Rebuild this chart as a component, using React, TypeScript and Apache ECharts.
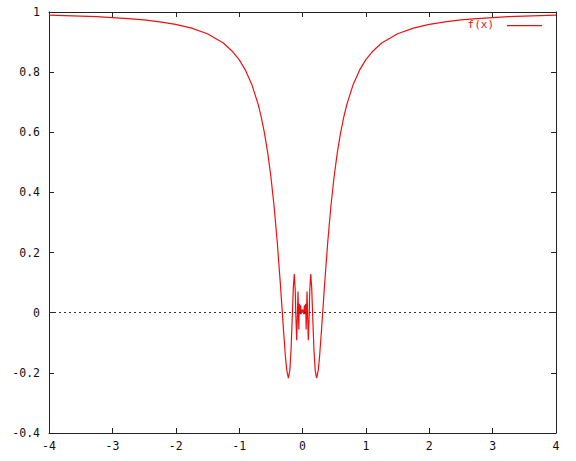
import React, { useEffect, useRef } from "react";
import * as echarts from "echarts";

const seriesName = "f(x)";
const xValues = [
  -4, -3.75, -3.5, -3.25, -3, -2.75, -2.5, -2.25, -2, -1.75, -1.5, -1.25, -1.1, -1, -0.9, -0.8, -0.7, -0.65, -0.6, -0.55,
  -0.5, -0.45, -0.4, -0.35, -0.3, -0.27, -0.25, -0.2225, -0.2, -0.18, -0.16, -0.145, -0.1294, -0.115, -0.105, -0.0917,
  -0.08, -0.0711, -0.064, -0.058, -0.05, -0.04, -0.03, -0.02, -0.01, 0,
  0.01, 0.02, 0.03, 0.04, 0.05, 0.058, 0.064, 0.0711, 0.08, 0.0917, 0.105, 0.115, 0.1294, 0.145, 0.16, 0.18, 0.2,
  0.2225, 0.25, 0.27, 0.3, 0.35, 0.4, 0.45, 0.5, 0.55, 0.6, 0.65, 0.7, 0.8, 0.9, 1, 1.1, 1.25, 1.5, 1.75, 2, 2.25,
  2.5, 2.75, 3, 3.25, 3.5, 3.75, 4,
];
const yValues = [
  0.9896, 0.9882, 0.9865, 0.9843, 0.9816, 0.9781, 0.9736, 0.9674, 0.9589, 0.9464, 0.9276, 0.8967, 0.8678, 0.8415, 0.8066,
  0.7592, 0.6929, 0.6497, 0.5972, 0.5333, 0.4547, 0.358, 0.2394, 0.0983, -0.0572, -0.1439, -0.1892, -0.2172, -0.1918,
  -0.1197, -0.0053, 0.0835, 0.1284, 0.0766, -0.0104, -0.0913, -0.0053, 0.0709, 0.0053, -0.056, 0.03, -0.005, 0.025,
  -0.005, 0.01, 0,
  0.01, -0.005, 0.025, -0.005, 0.03, -0.056, 0.0053, 0.0709, -0.0053, -0.0913, -0.0104, 0.0766, 0.1284, 0.0835, -0.0053,
  -0.1197, -0.1918, -0.2172, -0.1892, -0.1439, -0.0572, 0.0983, 0.2394, 0.358, 0.4547, 0.5333, 0.5972, 0.6497, 0.6929,
  0.7592, 0.8066, 0.8415, 0.8678, 0.8967, 0.9276, 0.9464, 0.9589, 0.9674, 0.9736, 0.9781, 0.9816, 0.9843, 0.9865, 0.9882,
  0.9896,
];
const xTicks = { min: -4, max: 4, step: 1 };
const yTicks = { min: -0.4, max: 1, step: 0.2 };

const FONT = "'DejaVu Sans Mono', monospace";
const RED = "#ee1111";

export default function App() {
  const ref = useRef<HTMLDivElement>(null);
  useEffect(() => {
    if (!ref.current) return;
    const chart = echarts.init(ref.current, undefined, { renderer: "svg" });
    const data = xValues.map((x, i) => [x, yValues[i]]);
    const axisCommon = {
      type: "value" as const,
      splitLine: { show: false },
      axisLine: { show: true, onZero: false, lineStyle: { color: "#222", width: 1 } },
      axisTick: { show: true, inside: true, length: 5, lineStyle: { color: "#222" } },
    };
    const fmt = (v: number) => String(+v.toFixed(1));
    chart.setOption({
      animation: false,
      backgroundColor: "#fff",
      grid: { left: 49, right: 20, top: 12, bottom: 28, containLabel: false },
      xAxis: [
        {
          ...axisCommon,
          position: "bottom",
          min: xTicks.min,
          max: xTicks.max,
          interval: xTicks.step,
          axisLabel: { show: true, margin: 7, fontFamily: FONT, fontSize: 11.5, color: "#111", formatter: fmt },
        },
        {
          ...axisCommon,
          position: "top",
          min: xTicks.min,
          max: xTicks.max,
          interval: xTicks.step,
          axisLabel: { show: false },
        },
      ],
      yAxis: [
        {
          ...axisCommon,
          position: "left",
          min: yTicks.min,
          max: yTicks.max,
          interval: yTicks.step,
          axisLabel: { show: true, margin: 9, fontFamily: FONT, fontSize: 11.5, color: "#111", formatter: fmt },
        },
        {
          ...axisCommon,
          position: "right",
          min: yTicks.min,
          max: yTicks.max,
          interval: yTicks.step,
          axisLabel: { show: false },
        },
      ],
      series: [
        {
          name: seriesName,
          type: "line",
          data,
          showSymbol: false,
          symbol: "none",
          lineStyle: { color: RED, width: 1.2 },
          markLine: {
            silent: true,
            symbol: "none",
            label: { show: false },
            lineStyle: { color: "#333", type: [2, 3], width: 1 },
            data: [{ yAxis: 0 }],
          },
          z: 3,
        },
      ],
      graphic: [
        {
          type: "text",
          right: 82,
          top: 19,
          style: { text: seriesName, fontFamily: FONT, fontSize: 11, fill: RED },
          z: 10,
        },
        {
          type: "rect",
          shape: { x: 507, y: 25, width: 35, height: 1.2 },
          style: { fill: RED, stroke: "none" },
          z: 10,
        },
      ],
    });
    return () => chart.dispose();
  }, []);
  return (
    <div
      ref={ref}
      style={{ position: "fixed", left: 0, top: 0, width: 576, height: 461, background: "#fff" }}
    />
  );
}
